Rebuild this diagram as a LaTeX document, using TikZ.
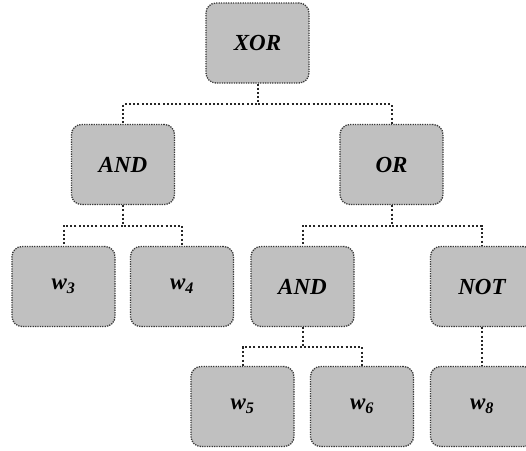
\documentclass[tikz,border=0pt]{standalone}
\usepackage{fontspec}
\setmainfont{Liberation Serif}
\definecolor{BoxFill}{HTML}{C0C0C0}
\definecolor{BoxLine}{HTML}{3A3A3A}

\begin{document}
\begin{tikzpicture}[x=1pt, y=-1pt,
  gate/.style={draw=BoxLine, line width=1.3pt, dash pattern=on 1.3pt off 1.1pt, fill=BoxFill, rounded corners=10pt,
    minimum width=103pt, minimum height=80pt, inner sep=0pt,
    font=\fontsize{23}{27}\selectfont\bfseries\itshape},
  link/.style={draw=black!85, line width=2pt, dash pattern=on 2pt off 2.2pt}]

 \useasboundingbox (0,0) rectangle (526,450);

 %%%%%%%%%% Points pour travailler %%%%%%%%%%
 \coordinate (pXOR) at (257.5,43);
 \coordinate (pAND) at (123,164.5);
 \coordinate (pOR) at (391.5,164.5);
 \coordinate (pWthree) at (63.5,286.5);
 \coordinate (pWfour) at (182,286.5);
 \coordinate (pANDb) at (302.5,286.5);
 \coordinate (pNOT) at (482,286.5);
 \coordinate (pWfive) at (242.5,406.5);
 \coordinate (pWsix) at (362,406.5);
 \coordinate (pWeight) at (482,406.5);

 %%%%%%%%%% Gates %%%%%%%%%%
 \node[gate] (XOR) at (pXOR) {XOR};
 \node[gate] (AND) at (pAND) {AND};
 \node[gate] (OR) at (pOR) {OR};
 \node[gate] (ANDb) at (pANDb) {AND};
 \node[gate] (NOT) at (pNOT) {NOT};

 %%%%%%%%%% Inputs %%%%%%%%%%
 \node[gate] (Wthree) at (pWthree) {w\textsubscript{3}};
 \node[gate] (Wfour) at (pWfour) {w\textsubscript{4}};
 \node[gate] (Wfive) at (pWfive) {w\textsubscript{5}};
 \node[gate] (Wsix) at (pWsix) {w\textsubscript{6}};
 \node[gate] (Weight) at (pWeight) {w\textsubscript{8}};

 %%%%%%%%%%% Links %%%%%%%%%%%
 \draw[link] (XOR.south) -- ++(0,20.5) -| (AND.north);
 \draw[link] (XOR.south) -- ++(0,20.5) -| (OR.north);
 \draw[link] (AND.south) -- ++(0,20.5) -| (Wthree.north);
 \draw[link] (AND.south) -- ++(0,20.5) -| (Wfour.north);
 \draw[link] (OR.south) -- ++(0,20.5) -| (ANDb.north);
 \draw[link] (OR.south) -- ++(0,20.5) -| (NOT.north);
 \draw[link] (ANDb.south) -- ++(0,20) -| (Wfive.north);
 \draw[link] (ANDb.south) -- ++(0,20) -| (Wsix.north);
 \draw[link] (NOT.south) -- (Weight.north);

\end{tikzpicture}
\end{document}
